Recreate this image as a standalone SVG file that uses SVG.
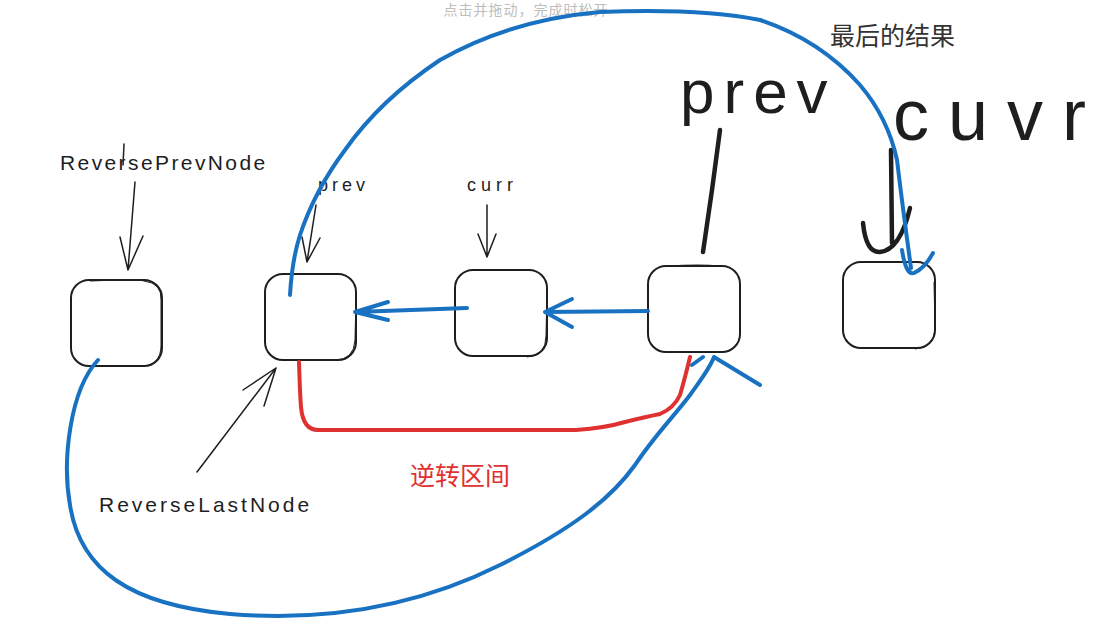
<svg xmlns="http://www.w3.org/2000/svg" width="1104" height="626" viewBox="0 0 1104 626">
<style>
.node{fill:#fff;stroke:#1e1e1e;stroke-width:2}
.sk{fill:none;stroke:#1e1e1e;stroke-width:1}
.thin{fill:none;stroke:#1e1e1e;stroke-width:1.5;stroke-linecap:round;stroke-linejoin:round}
.thick{fill:none;stroke:#1e1e1e;stroke-width:4.5;stroke-linecap:round;stroke-linejoin:round}
.blue{fill:none;stroke:#1971c2;stroke-width:4;stroke-linecap:round;stroke-linejoin:round}
.red{fill:none;stroke:#e03131;stroke-width:4;stroke-linecap:round;stroke-linejoin:round}
.hand{font-family:"Liberation Sans",Arial,sans-serif;fill:#1e1e1e}
.cjk{font-family:"Noto Sans CJK SC","Liberation Sans",sans-serif}
</style>
<rect width="1104" height="626" fill="#fff"/>
<g id="hint"><text x="526" y="15" class="cjk" font-size="14" letter-spacing="1" fill="#bdbdbd" text-anchor="middle">点击并拖动，完成时松开</text></g>
<g id="n1"><rect class="node" x="71" y="280" width="91" height="86" rx="18"/><path class="sk" d="M90 281 Q140 279 144 281 Q162 283 161 300 L161 345 Q161 366 141 366"/></g>
<g id="n2"><rect class="node" x="265" y="274" width="91" height="86" rx="18"/><path class="sk" d="M356 295 L355 340 Q354 360 335 360"/></g>
<g id="n3"><rect class="node" x="455" y="270" width="92" height="86" rx="18"/><path class="sk" d="M547 290 L546 336 Q546 356 527 357"/></g>
<g id="n4"><rect class="node" x="648" y="266" width="92" height="86" rx="18"/><path class="sk" d="M668 266 Q700 264 720 266"/></g>
<g id="n5"><rect class="node" x="843" y="262" width="92" height="86" rx="18"/><path class="sk" d="M934 282 L935 328 Q935 348 915 349"/></g>
<g id="labels">
<text x="60" y="170" class="hand" font-size="21" letter-spacing="2.4">ReversePrevNode</text>
<text x="318" y="191" class="hand" font-size="18" letter-spacing="4">prev</text>
<text x="467" y="191" class="hand" font-size="18" letter-spacing="5">curr</text>
<text x="99" y="512" class="hand" font-size="21" letter-spacing="3">ReverseLastNode</text>
<text x="410" y="485" class="cjk" font-size="25" fill="#e03131">逆转区间</text>
<text x="830" y="45" class="cjk" font-size="25" fill="#333">最后的结果</text>
<text x="680" y="113" class="hand" font-size="62" letter-spacing="9">prev</text>
<text x="893" y="140" class="hand" font-size="72" letter-spacing="19">cuvr</text>
</g>
<g id="connectors">
<path class="thin" d="M124 144 L123 165"/>
<path class="thin" d="M135 182 L128 270 M120 237 L128 270 L143 236"/>
<path class="thin" d="M316 205 L307 262 M302 237 L307 262 L320 238"/>
<path class="thin" d="M487 205 L487 257 M478 234 L487 257 L496 234"/>
<path class="thin" d="M197 472 L276 368 M243 390 L276 368 L264 406"/>
<path class="thick" d="M720 130 L712 190 L703 252"/>
<path class="thick" d="M891 150 L892 243 M863 223 Q866 253 880 252 Q900 250 910 208"/>
<path class="blue" d="M290 295 Q292 260 300 235 Q315 190 345 150 Q380 100 440 60 Q510 20 600 12 Q700 8 760 20 Q820 40 860 85 Q888 118 897 160 Q903 210 911 268 M902 250 Q906 276 914 273 Q925 268 933 253"/>
<path class="blue" d="M467 308 L355 312 M388 302 L355 312 L388 320"/>
<path class="blue" d="M648 311 L545 312 M572 299 L545 312 L572 327"/>
<path class="blue" d="M98 360 C70 390 62 460 70 505 C80 570 130 605 230 614 C330 622 420 605 500 565 C570 530 610 500 635 465 C655 435 675 415 690 395 C702 378 710 368 714 357 L760 385 M692 365 L703 357"/>
<path class="red" d="M299 362 Q300 395 301 407 Q303 430 318 430 L576 430 Q605 428 625 422 Q645 417 660 414 Q674 408 680 395 Q685 378 690 357"/>
</g>
</svg>
